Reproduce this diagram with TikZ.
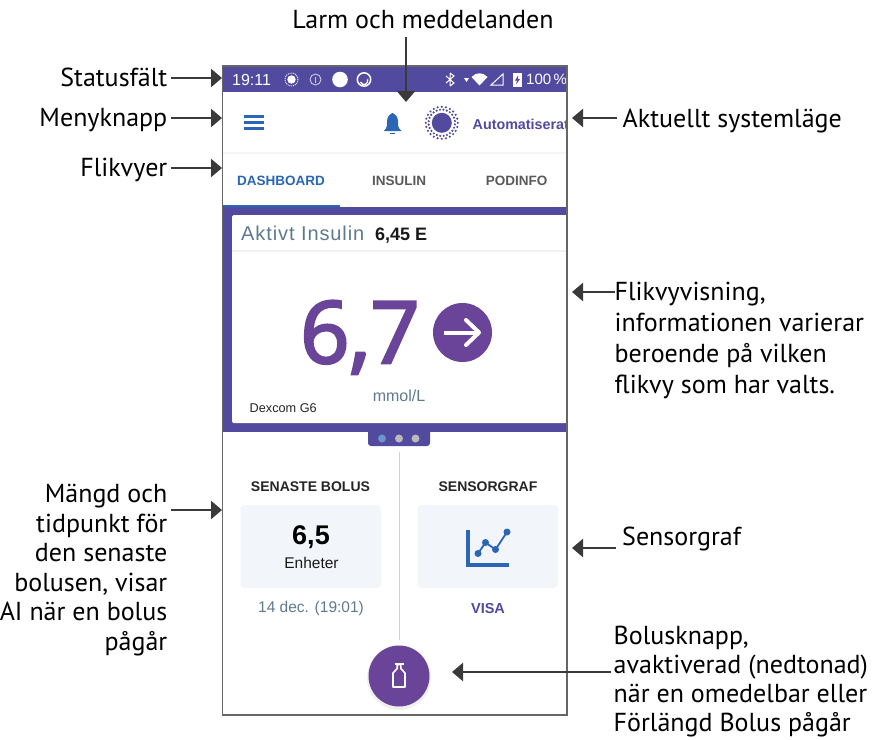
\documentclass[tikz,border=0pt]{standalone}
\usepackage{fontspec}
\setmainfont{PT Sans}
\newfontfamily\uifont{Liberation Sans}
\newfontfamily\bigfont[FakeBold=3]{Open Sans}
\newfontfamily\spacedfont[LetterSpace=4.5]{Liberation Sans}
\usetikzlibrary{arrows.meta}
\definecolor{bandc}{HTML}{524A9E}
\definecolor{violetc}{HTML}{6A4499}
\definecolor{tabblue}{HTML}{2A66B5}
\definecolor{arrowc}{HTML}{3A3A3A}
\definecolor{panel}{HTML}{F2F6FA}
\definecolor{slate}{HTML}{5F7A8E}
\definecolor{framec}{HTML}{666666}
\definecolor{divc}{HTML}{C8D4DC}
\tikzset{
  lab/.style={font=\fontsize{26}{29.6}\selectfont, text=black, inner sep=0pt, align=left},
  labr/.style={font=\fontsize{26}{29.6}\selectfont, text=black, inner sep=0pt, align=right},
  conn/.style={draw=arrowc, line width=2.4pt, -{Triangle[length=11pt,width=18pt]}},
  uitext/.style={inner sep=0pt},
}
\begin{document}
\begin{tikzpicture}[x=1pt,y=-1pt]
\useasboundingbox (0,0) rectangle (875,739);
% phone
\fill[white] (222.5,66) rectangle (567,715);
\fill[bandc] (222.5,67) rectangle (567,92);
\fill[gray!8] (223,152) rectangle (567,154);
% status bar
\node[uitext,text=white,font=\uifont\fontsize{16}{18}\selectfont,anchor=west] (clock) at (232,79.5) {19:11};
\draw[white,line width=.9pt,densely dotted] (291.5,79.5) circle (6.5);
\fill[white] (291.5,79.5) circle (4.2);
\draw[white!70!bandc,line width=.9pt] (315.5,79.5) circle (5.5);
\fill[white!70!bandc] (315,76.5) rectangle (316,82.5);
\fill[white] (340,79.5) circle (7.8);
\draw[white,line width=1.5pt] (364,79.5) circle (6.7);
\draw[white,line width=1.3pt] (360.5,82) arc (160:-20:3.8);
\draw[white,line width=1pt] (450,73)--(450,86) (446,76)--(454,83)--(450,86) (446,83)--(454,76)--(450,73);
\fill[white] (464,78)--(469,78)--(466.5,82)--cycle;
\fill[white] (471.5,77) .. controls (476,72) and (483,72) .. (487.5,77) -- (479.5,85.5) -- cycle;
\draw[white,line width=1pt] (491,85)--(503,85)--(503,74)--cycle;
\fill[white] (513,73) rectangle (521.5,86.5);
\fill[bandc] (518,75.5)--(515,80.5)--(517,80.5)--(516,84.5)--(520,79)--(518,79)--cycle;
\node[uitext,text=white,font=\uifont\fontsize{15}{16}\selectfont,anchor=west] (batt) at (526,79.5) {100\,\%};
% header
\draw[tabblue,line width=2.4pt] (243.5,116.5)--(264,116.5) (243.5,122.5)--(264,122.5) (243.5,128.5)--(264,128.5);
\fill[tabblue] (384,131) .. controls (387,128) and (387,126) .. (387,122) .. controls (387,117) and (389,114.5) .. (392.5,113) .. controls (396,114.5) and (398,117) .. (398,122) .. controls (398,126) and (398,128) .. (401.5,131) -- cycle;
\fill[tabblue] (390,132.5) rectangle (395,134);
\foreach \a in {0,15,...,345}{\fill[bandc] (441.8,122.8)++(\a:16) circle (1.2);}
\foreach \a in {7,22,...,352}{\fill[bandc] (441.8,122.8)++(\a:13.2) circle (1.2);}
\fill[bandc] (441.8,122.8) circle (10);
\begin{scope}
\clip (222.5,66) rectangle (567,715);
\node[uitext,text=bandc,font=\uifont\bfseries\fontsize{14.3}{16}\selectfont,anchor=west] (mode) at (472.5,124) {Automatiserat};
\end{scope}
% tabs
\node[uitext,text=tabblue,font=\uifont\bfseries\fontsize{13.5}{16}\selectfont] (t1) at (281,181) {DASHBOARD};
\node[uitext,text=black!65,font=\uifont\bfseries\fontsize{13.5}{16}\selectfont] (t2) at (399,181) {INSULIN};
\node[uitext,text=black!65,font=\uifont\bfseries\fontsize{13.5}{16}\selectfont] (t3) at (516.5,181) {PODINFO};
% band
\fill[bandc] (223,206.5) rectangle (567,432);
\fill[tabblue] (223,204.5) rectangle (340,207);
\fill[white,rounded corners=1.5pt] (232,215) rectangle (567,423);
\fill[gray!12] (232,250) rectangle (567,251.5);
\node[uitext,text=slate,font=\spacedfont\fontsize{20}{22}\selectfont,anchor=base west] (ai) at (241,240.5) {Aktivt Insulin};
\node[uitext,text=black!90,font=\uifont\bfseries\fontsize{18}{22}\selectfont,anchor=base west] (aiv) at (375,240.5) {6,45 E};
\node[uitext,text=violetc,font=\bigfont\fontsize{86}{90}\selectfont,anchor=base] (bg) at (360,363) {6,7};
\fill[violetc] (462.5,332.5) circle (29.5);
\draw[white,line width=4pt] (444,332.5)--(478,332.5);
\draw[white,line width=4pt,line cap=round,line join=round] (466,320)--(479,332.5)--(466,345);
\node[uitext,text=slate,font=\uifont\fontsize{16}{18}\selectfont,anchor=base] (unit) at (399,401) {mmol/L};
\node[uitext,text=black!85,font=\uifont\fontsize{12.7}{14}\selectfont,anchor=base west] (dx) at (249.5,412.5) {Dexcom G6};
\fill[bandc,rounded corners=3pt] (368,425) rectangle (430,446);
\fill[tabblue!70] (382,438.5) circle (4);
\fill[gray!55] (399,438.5) circle (4);
\fill[gray!55] (415.5,438.5) circle (4);
% lower
\draw[divc,line width=1pt] (399,452)--(399,640);
\node[uitext,text=black!85,font=\uifont\bfseries\fontsize{14}{16}\selectfont] (sb) at (310.5,487) {SENASTE BOLUS};
\node[uitext,text=black!85,font=\uifont\bfseries\fontsize{14}{16}\selectfont] (sg) at (488,487) {SENSORGRAF};
\fill[panel,rounded corners=4pt] (240.5,505) rectangle (381,588);
\fill[panel,rounded corners=4pt] (417.5,505) rectangle (558,588);
\node[uitext,text=black,font=\uifont\bfseries\fontsize{27}{28}\selectfont] (v) at (311,537) {6,5};
\node[uitext,text=black!90,font=\uifont\fontsize{15.5}{18}\selectfont] (e) at (311.5,563) {Enheter};
\node[uitext,text=slate,font=\uifont\fontsize{15.5}{18}\selectfont] (d) at (311,608) {14 dec. (19:01)};
\node[uitext,text=bandc,font=\uifont\bfseries\fontsize{14.5}{18}\selectfont] (vi) at (488,608) {VISA};
\draw[tabblue,line width=4pt] (468,530)--(468,564.5)--(509,564.5);
\draw[tabblue,line width=1.8pt] (478,553.5)--(485.5,542.5)--(495.5,549.5)--(507,532);
\foreach \p in {(478,553.5),(485.5,542.5),(495.5,549.5),(507,532)} \fill[tabblue] \p circle (3.5);
\fill[black!6] (399,678) circle (32);
\node[circle,fill=violetc,minimum size=61pt,inner sep=0pt] (fab) at (399,676) {};
\draw[white,line width=1.6pt,line join=round] (393,687)--(405,687)--(405,673)--(400.8,668.5)--(400.8,664.5)--(397.2,664.5)--(397.2,668.5)--(393,673)--cycle;
\draw[white,line width=1.6pt] (394.5,664)--(403.5,664);
% frame
\draw[framec,line width=1.2pt] (222.5,66) rectangle (567,715);
% labels
\node[lab,anchor=base] (lm) at (423,28) {Larm och meddelanden};
\node[labr,anchor=base east] (ls) at (167.5,86) {Statusfält};
\node[labr,anchor=base east] (lk) at (167.5,126) {Menyknapp};
\node[labr,anchor=base east] (lf) at (167.5,176) {Flikvyer};
\node[lab,anchor=base west] (la) at (622.5,127) {Aktuellt systemläge};
\node[lab,anchor=north west,font=\fontsize{26}{31}\selectfont] (lv) at (614.5,282) {Flikvyvisning,\\informationen varierar\\beroende på vilken\\flikvy som har valts.};
\node[labr,anchor=north east] (lb) at (167.5,484) {Mängd och\\tidpunkt för\\den senaste\\bolusen, visar\\AI när en bolus\\pågår};
\node[lab,anchor=base west] (lg) at (622,545) {Sensorgraf};
\node[lab,anchor=north west,font=\fontsize{26}{29}\selectfont] (lk2) at (613.5,626) {Bolusknapp,\\avaktiverad (nedtonad)\\när en omedelbar eller\\Förlängd Bolus pågår};
\coordinate (c1) at (406,37);
\coordinate (c1e) at (406,102);
\coordinate (tS) at (222,78);
\coordinate (tM) at (222,118);
\coordinate (tF) at (222,168);
\coordinate (tB) at (222,510);
\coordinate (tA) at (572,118);
\coordinate (tV) at (572,292);
\coordinate (tG) at (572,548);
\coordinate (tK) at (452,672);
\draw[conn] (c1)--(c1e);
\draw[conn] ([xshift=3pt]ls.east |- tS) -- (tS);
\draw[conn] ([xshift=3pt]lk.east |- tM) -- (tM);
\draw[conn] ([xshift=3pt]lf.east |- tF) -- (tF);
\draw[conn] ([xshift=3pt]lb.east |- tB) -- (tB);
\draw[conn] ([xshift=-6pt]la.west |- tA) -- (tA);
\draw[conn] (lv.west |- tV) -- (tV);
\draw[conn] ([xshift=-6pt]lg.west |- tG) -- (tG);
\draw[conn] ([xshift=-3pt]lk2.west |- tK) -- (tK);
\end{tikzpicture}
\end{document}
